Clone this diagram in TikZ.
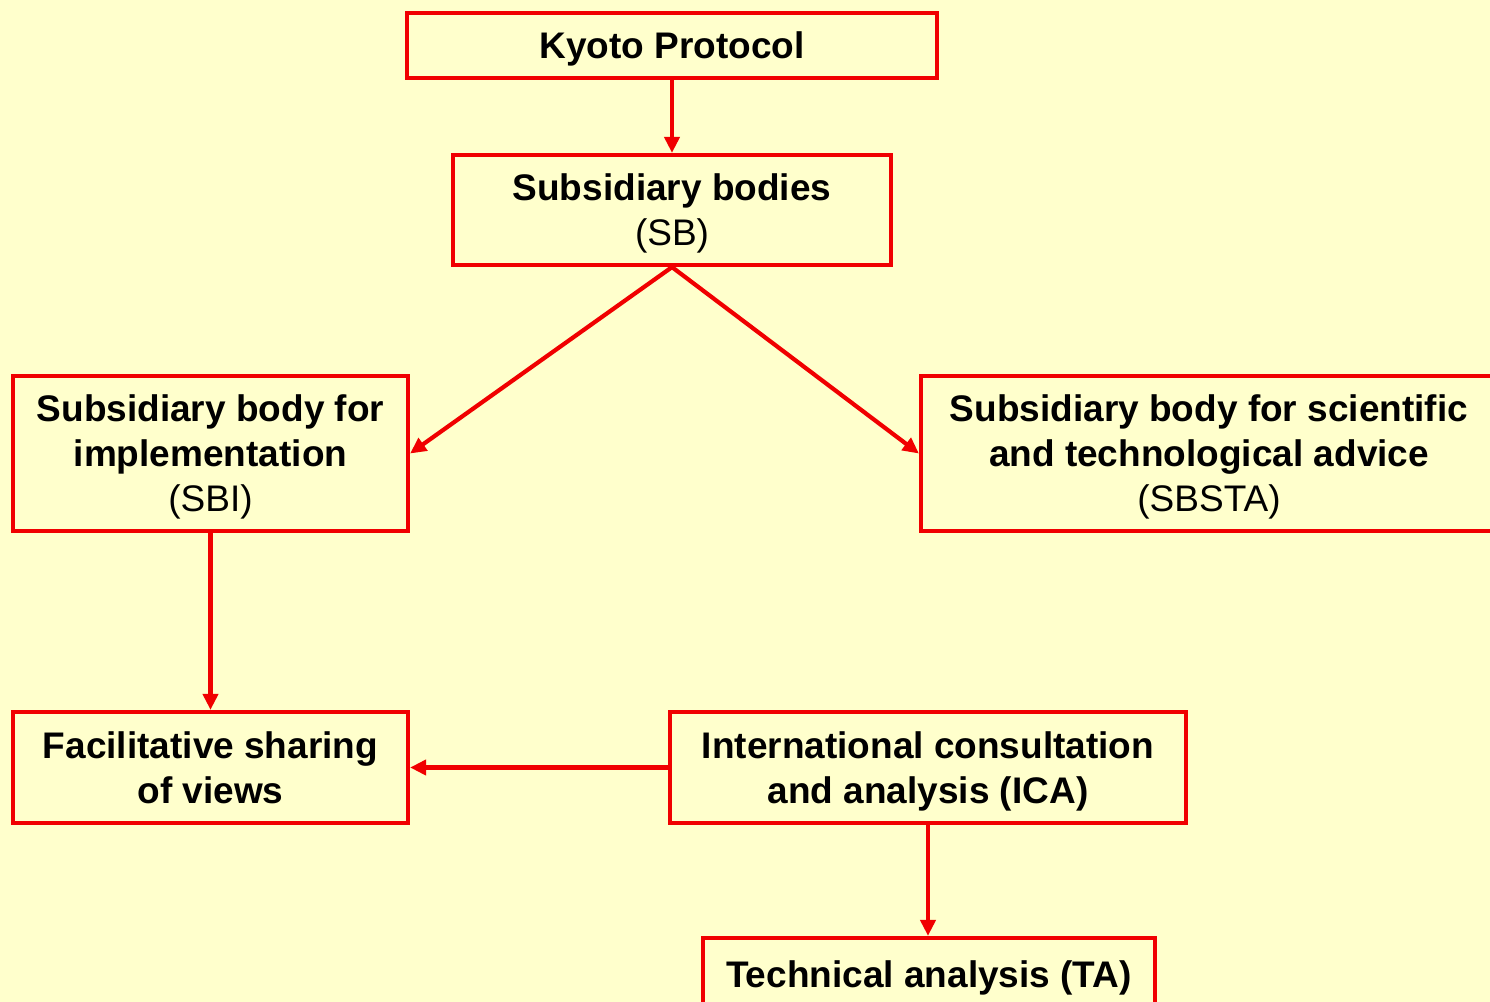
\documentclass[tikz,border=0pt]{standalone}
\usepackage{fontspec}
\setmainfont{Liberation Sans}
\usetikzlibrary{arrows.meta}
\definecolor{bgyellow}{RGB}{255,255,204}
\definecolor{boxred}{RGB}{240,0,0}
\begin{document}
\begin{tikzpicture}
[x=0.5pt,y=-0.5pt,%
  box/.style={shape=rectangle,draw=boxred,line width=2.1pt,inner sep=0pt,align=center,%
    text depth=0pt,font=\fontsize{18.5}{22.5}\selectfont\bfseries},%
  link/.style={draw=boxred,line width=2.1pt,-{Triangle[length=8pt,width=7.5pt]}}]
\clip (0,0) rectangle (1490,1002);
\fill[bgyellow] (0,0) rectangle (1490,1002);
% boxes
\node[box,minimum width=265pt,minimum height=32.5pt] (kp) at (672,45.5) {Kyoto Protocol};
\node[box,minimum width=219pt,minimum height=55pt] (sb) at (672,210)
  {Subsidiary bodies\\\mdseries (SB)};
\node[box,minimum width=197.5pt,minimum height=77.5pt] (sbi) at (210.5,453.5)
  {Subsidiary body for\\implementation\\\mdseries (SBI)};
\node[box,minimum width=288pt,minimum height=77.5pt] (sbsta) at (1209,453.5)
  {Subsidiary body for scientific\\and technological advice\\\mdseries (SBSTA)};
\node[box,minimum width=197.5pt,minimum height=55.5pt] (fsv) at (210.5,767.5)
  {Facilitative sharing\\of views};
\node[box,minimum width=258pt,minimum height=55.5pt] (ica) at (928,767.5)
  {International consultation\\and analysis (ICA)};
\node[box,minimum width=226pt,minimum height=36pt] (ta) at (929,974)
  {Technical analysis (TA)};
% connectors
\draw[link] (kp) -- (sb);
\draw[link] (sb.south) -- (sbi.east);
\draw[link] (sb.south) -- (sbsta.west);
\draw[link] (sbi) -- (fsv);
\draw[link] (ica) -- (fsv);
\draw[link] (ica.south) -- (ica.south |- ta.north);
\end{tikzpicture}
\end{document}
